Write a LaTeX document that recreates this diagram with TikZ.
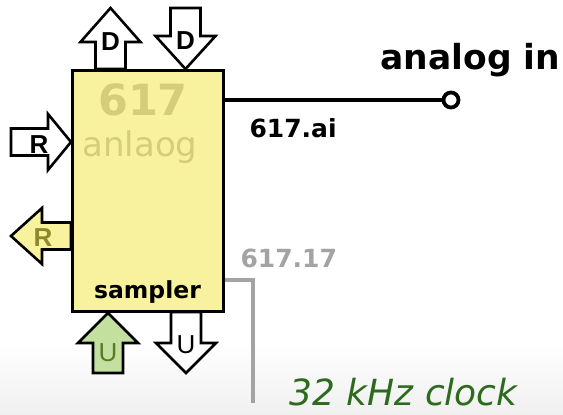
\documentclass[tikz,border=0pt]{standalone}
\usepackage{fontspec}
\setmainfont{DejaVu Sans}
\newfontfamily\lettfont{Liberation Sans}
\usepackage{xcolor}
\definecolor{BoxYellow}{HTML}{F8F29E}
\definecolor{FadeYellow}{HTML}{D6CD7A}
\definecolor{OliveText}{HTML}{8E8A2A}
\definecolor{LeafGreen}{HTML}{C4E09E}
\definecolor{LeafText}{HTML}{5A7A2A}
\definecolor{ClockGreen}{HTML}{2C6B1E}
\definecolor{WireGray}{HTML}{A3A3A3}
\usetikzlibrary{calc, positioning}

% vertical block arrow: style, x centre, tail y, tip y, shoulder y
\newcommand{\vblock}[5]{%
  \draw[#1] (#2-15,#3) -- (#2-15,#5) -- (#2-30,#5) -- (#2,#4)
    -- (#2+30,#5) -- (#2+15,#5) -- (#2+15,#3) -- cycle;}
% horizontal block arrow: style, y centre, tail x, tip x, shoulder x
\newcommand{\hblock}[5]{%
  \draw[#1] (#3,#2-13.5) -- (#5,#2-13.5) -- (#5,#2-28) -- (#4,#2)
    -- (#5,#2+28) -- (#5,#2+13.5) -- (#3,#2+13.5) -- cycle;}

\begin{document}
\begin{tikzpicture}[
    x=1pt, y=-1pt,
    block_box/.style={draw=black, fill=BoxYellow, line width=3pt, minimum width=151pt, minimum height=241pt, inner sep=0pt},
    port_arrow/.style={draw=black, fill=white, line width=2.6pt, line join=miter},
    port_letter/.style={font=\lettfont\bfseries\fontsize{26}{26}\selectfont, inner sep=0pt},
    wire/.style={line width=3.8pt},
    clock_wire/.style={WireGray, line width=3.8pt},
    pin/.style={circle, draw=black, fill=white, line width=3.8pt, minimum size=15pt, inner sep=0pt}
]
    \useasboundingbox (0,0) rectangle (563,415);

    % 1. BACKGROUND (soft floor)
    \shade[top color=white, bottom color=black!6] (0,342) rectangle (563,415);

    % 2. PORT ARROWS
    \vblock{port_arrow}{110.5}{69}{8}{42}
    \vblock{port_arrow}{185.5}{8}{69}{36}
    \hblock{port_arrow}{142}{11}{71}{48}
    \hblock{port_arrow, fill=BoxYellow}{236}{71}{11}{42}
    \vblock{port_arrow, fill=LeafGreen}{108}{373}{313}{343}
    \vblock{port_arrow}{186}{312}{373}{343}

    \node[port_letter] (dout) at (110.5,42) {D};
    \node[port_letter] (din) at (185.5,41) {D};
    \node[port_letter] (rin) at (39,145) {R};
    \node[port_letter, text=OliveText] (rout) at (43,238) {R};
    \node[port_letter, text=LeafText, font=\lettfont\fontsize{26}{26}\selectfont] (uin) at (108,353) {U};
    \node[port_letter, font=\lettfont\fontsize{26}{26}\selectfont] (uout) at (186,345) {U};

    % 3. THE SAMPLER BLOCK
    \node[block_box] (adc) at (147.5,190.5) {};
    \node[text=FadeYellow, font=\bfseries\fontsize{43}{43}\selectfont, anchor=base] (num) at (143,115) {617};
    \node[text=FadeYellow, font=\fontsize{34}{34}\selectfont, anchor=base] (kind) at (140,156) {anlaog};
    \node[font=\bfseries\fontsize{23.5}{23.5}\selectfont, anchor=base] (role) at (147.5,298) {sampler};

    % 4. ANALOG INPUT
    \node[pin] (ain) at (451,100) {};
    \draw[wire] (adc.east |- ain) -- (ain);
    \node[font=\bfseries\fontsize{34.5}{34.5}\selectfont, anchor=base west] (ainlabel) at (377,69) {analog in};
    \node[font=\bfseries\fontsize{25}{25}\selectfont, anchor=base west] (ailabel) at (246,137) {617.ai};

    % 5. CLOCK INPUT
    \coordinate (clk) at (253,403);
    \draw[clock_wire] (adc.east |- 0,280) -| (clk);
    \node[text=WireGray, font=\bfseries\fontsize{25}{25}\selectfont, anchor=base west] (clklabel) at (237,267) {617.17};
    \node[text=ClockGreen, font=\itshape\fontsize{36}{36}\selectfont, anchor=base west] (clktext) at (286,405) {32 kHz clock};

\end{tikzpicture}
\end{document}
